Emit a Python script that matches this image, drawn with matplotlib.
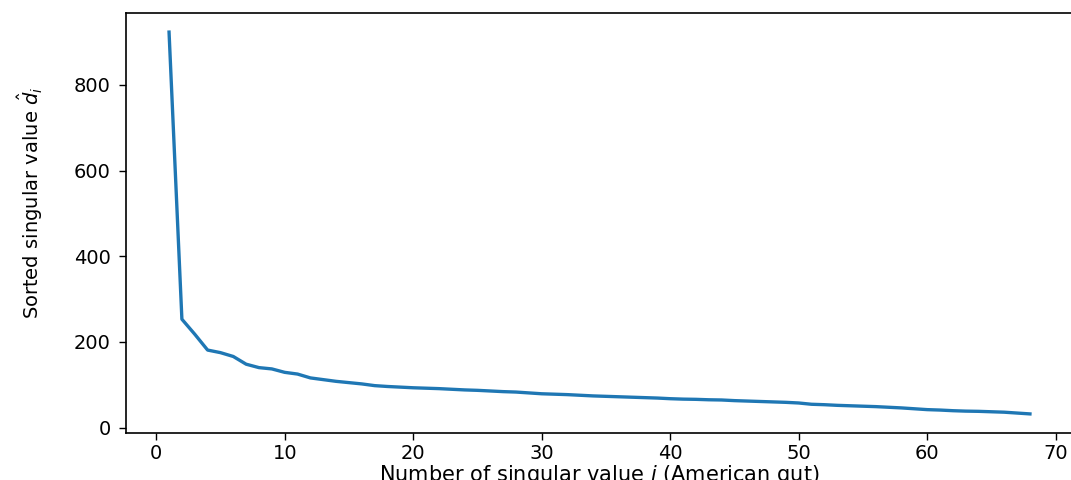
import matplotlib
matplotlib.use("Agg")
import matplotlib.pyplot as plt

# Sorted singular values (American gut)
index = list(range(1, 69))
singular_values = [
    923, 253, 218, 181, 175, 166, 148, 140, 137, 129,
    125, 116, 112, 108, 105, 102, 98, 96, 94.5, 93,
    92, 91, 89.5, 88, 87, 85.5, 84, 83, 81, 79,
    78, 77, 75.5, 74, 73, 72, 71, 70, 69, 67.5,
    66.5, 66, 65, 64.5, 63, 62, 61, 60, 59, 57.5,
    54.5, 53.5, 52, 51, 50, 49, 47.5, 46, 44, 42,
    41, 39.5, 38.5, 38, 37, 36, 34, 32,
]
xticks = [0, 10, 20, 30, 40, 50, 60, 70]
yticks = [0, 200, 400, 600, 800]

fig = plt.figure(figsize=(10.71, 4.8), dpi=100)
ax = fig.add_axes([126 / 1071, 1 - 433 / 480, 947 / 1071, 420 / 480])
ax.plot(index, singular_values, color="#1f77b4", lw=2.4)
ax.set_xticks(xticks)
ax.set_yticks(yticks)
ax.tick_params(labelsize=14, length=5, width=1)
ax.tick_params(axis="y", pad=6)
ax.tick_params(axis="x", pad=3)
for s in ax.spines.values():
    s.set_linewidth(1.2)
ax.set_ylabel(r"Sorted singular value $\hat{d}_i$", fontsize=14)
ax.yaxis.set_label_coords(-0.086, 0.548)
ax.set_xlabel(r"Number of singular value $i$ (American gut)", fontsize=15, va="top")
ax.xaxis.set_label_coords(0.5, -0.072)
fig.savefig("out.png", dpi=100)
